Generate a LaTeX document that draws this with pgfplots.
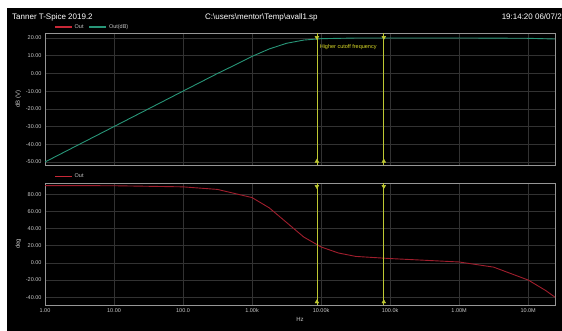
\documentclass[border=0pt]{standalone}
\usepackage{pgfplots}
\pgfplotsset{compat=1.18}
\usepackage{fontspec}
\setmainfont{Liberation Sans}
\definecolor{bg}{RGB}{0,0,0}
\definecolor{gridc}{RGB}{50,50,50}
\definecolor{framec}{RGB}{150,150,150}
\definecolor{labc}{RGB}{200,200,200}
\definecolor{dbgreen}{RGB}{40,150,120}
\definecolor{outred}{RGB}{160,30,45}
\definecolor{legred}{RGB}{200,40,55}
\definecolor{cursc}{RGB}{190,200,50}
\definecolor{txtyel}{RGB}{220,220,40}
\begin{document}
\begin{tikzpicture}
\fill[white] (0pt,0pt) rectangle (562pt,331pt);
\fill[bg] (7pt,0pt) rectangle (562pt,323pt);
\node[anchor=west, text=white, font=\fontsize{8}{9}\selectfont, inner sep=0] at (12pt,314pt) {Tanner T-Spice 2019.2};
\node[anchor=west, text=white, font=\fontsize{8}{9}\selectfont, inner sep=0] at (205pt,314pt) {C:\textbackslash users\textbackslash mentor\textbackslash Temp\textbackslash avall1.sp};
\node[anchor=east, text=white, font=\fontsize{8}{9}\selectfont, inner sep=0] at (562pt,314pt) {19:14:20 06/07/2};
\pgfplotsset{
  every axis/.append style={
    scale only axis, anchor=south west, width=510pt,
    xmode=log, xmin=1, xmax=2.45e7,
    axis line style={framec}, tick style={draw=none},
    grid=major, major grid style={gridc, line width=0.5pt},
    xtick={1,10,100,1000,10000,100000,1000000,10000000},
    ticklabel style={text=labc, font=\fontsize{5.5}{6}\selectfont},
    label style={text=labc, font=\fontsize{6}{7}\selectfont},
    /pgf/number format/assume math mode=true,
    legend style={at={(0,1)}, anchor=south west, draw=none, fill=none, text=labc,
      font=\fontsize{5.5}{6}\selectfont, legend columns=-1, inner sep=1pt,
      /tikz/every even column/.append style={column sep=3pt}},
    ylabel shift=-2pt,
  }
}
% top panel
\begin{axis}[at={(45pt,166pt)}, height=132pt,
  ymin=-51.7, ymax=22.8,
  ytick={-50,-40,-30,-20,-10,0,10,20},
  yticklabels={-50.00,-40.00,-30.00,-20.00,-10.00,0.00,10.00,20.00},
  xticklabels={},
  ylabel={dB (V)},
  legend style={xshift=8pt}]
\addlegendimage{legred, line width=1.4pt}
\addlegendentry{Out}
\addlegendimage{dbgreen, line width=1.4pt}
\addlegendentry{Out(dB)}
\addplot[dbgreen, line width=0.9pt, forget plot] coordinates {
 (1,-50.0) (10,-30.0) (100,-10.0) (316,-0.04) (562,4.7) (1000,9.59) (1778,13.81)
 (3162,16.99) (5623,18.81) (10000,19.59) (31623,19.96) (100000,20.0)
 (1000000,20.0) (10000000,19.8) (24500000,19.4)};
\addplot[cursc, line width=0.8pt, forget plot] coordinates {(8700,-51.7) (8700,22.8)};
\addplot[cursc, line width=0.8pt, forget plot] coordinates {(81000,-51.7) (81000,22.8)};
\addplot[only marks, cursc, mark=triangle*, mark size=2.2pt, mark options={rotate=180}, forget plot] coordinates {(8700,20.3) (81000,20.3)};
\addplot[only marks, cursc, mark=triangle*, mark size=2.2pt, forget plot] coordinates {(8700,-49.6) (81000,-49.6)};
\node[anchor=west, text=txtyel, font=\fontsize{5.5}{6}\selectfont, inner sep=1pt] at (axis cs:9200,15) {Higher cutoff frequency};
\end{axis}
% bottom panel
\begin{axis}[at={(45pt,26pt)}, height=122pt,
  ymin=-49.1, ymax=93,
  ytick={-40,-20,0,20,40,60,80},
  yticklabels={-40.00,-20.00,0.00,20.00,40.00,60.00,80.00},
  xticklabels={1.00,10.00,100.0,1.00k,10.00k,100.0k,1.00M,10.0M},
  xlabel={Hz}, xlabel shift=-2pt,
  ylabel={deg},
  legend style={xshift=8pt, yshift=0.5pt}]
\addlegendimage{legred, line width=1.4pt}
\addlegendentry{Out}
\addplot[outred, line width=0.9pt, forget plot] coordinates {
 (1,90) (10,89.8) (100,88.5) (316,85.5) (1000,76) (1778,64) (3162,47)
 (5623,30) (10000,18.5) (17783,11.5) (31623,7.5) (100000,5) (316228,3)
 (1000000,1) (3162278,-5) (10000000,-20) (17783000,-32) (24500000,-40)};
\addplot[cursc, line width=0.8pt, forget plot] coordinates {(8700,-49.1) (8700,93)};
\addplot[cursc, line width=0.8pt, forget plot] coordinates {(81000,-49.1) (81000,93)};
\addplot[only marks, cursc, mark=triangle*, mark size=2.2pt, mark options={rotate=180}, forget plot] coordinates {(8700,89) (81000,89)};
\addplot[only marks, cursc, mark=triangle*, mark size=2.2pt, forget plot] coordinates {(8700,-45.5) (81000,-45.5)};
\end{axis}
\end{tikzpicture}
\end{document}
